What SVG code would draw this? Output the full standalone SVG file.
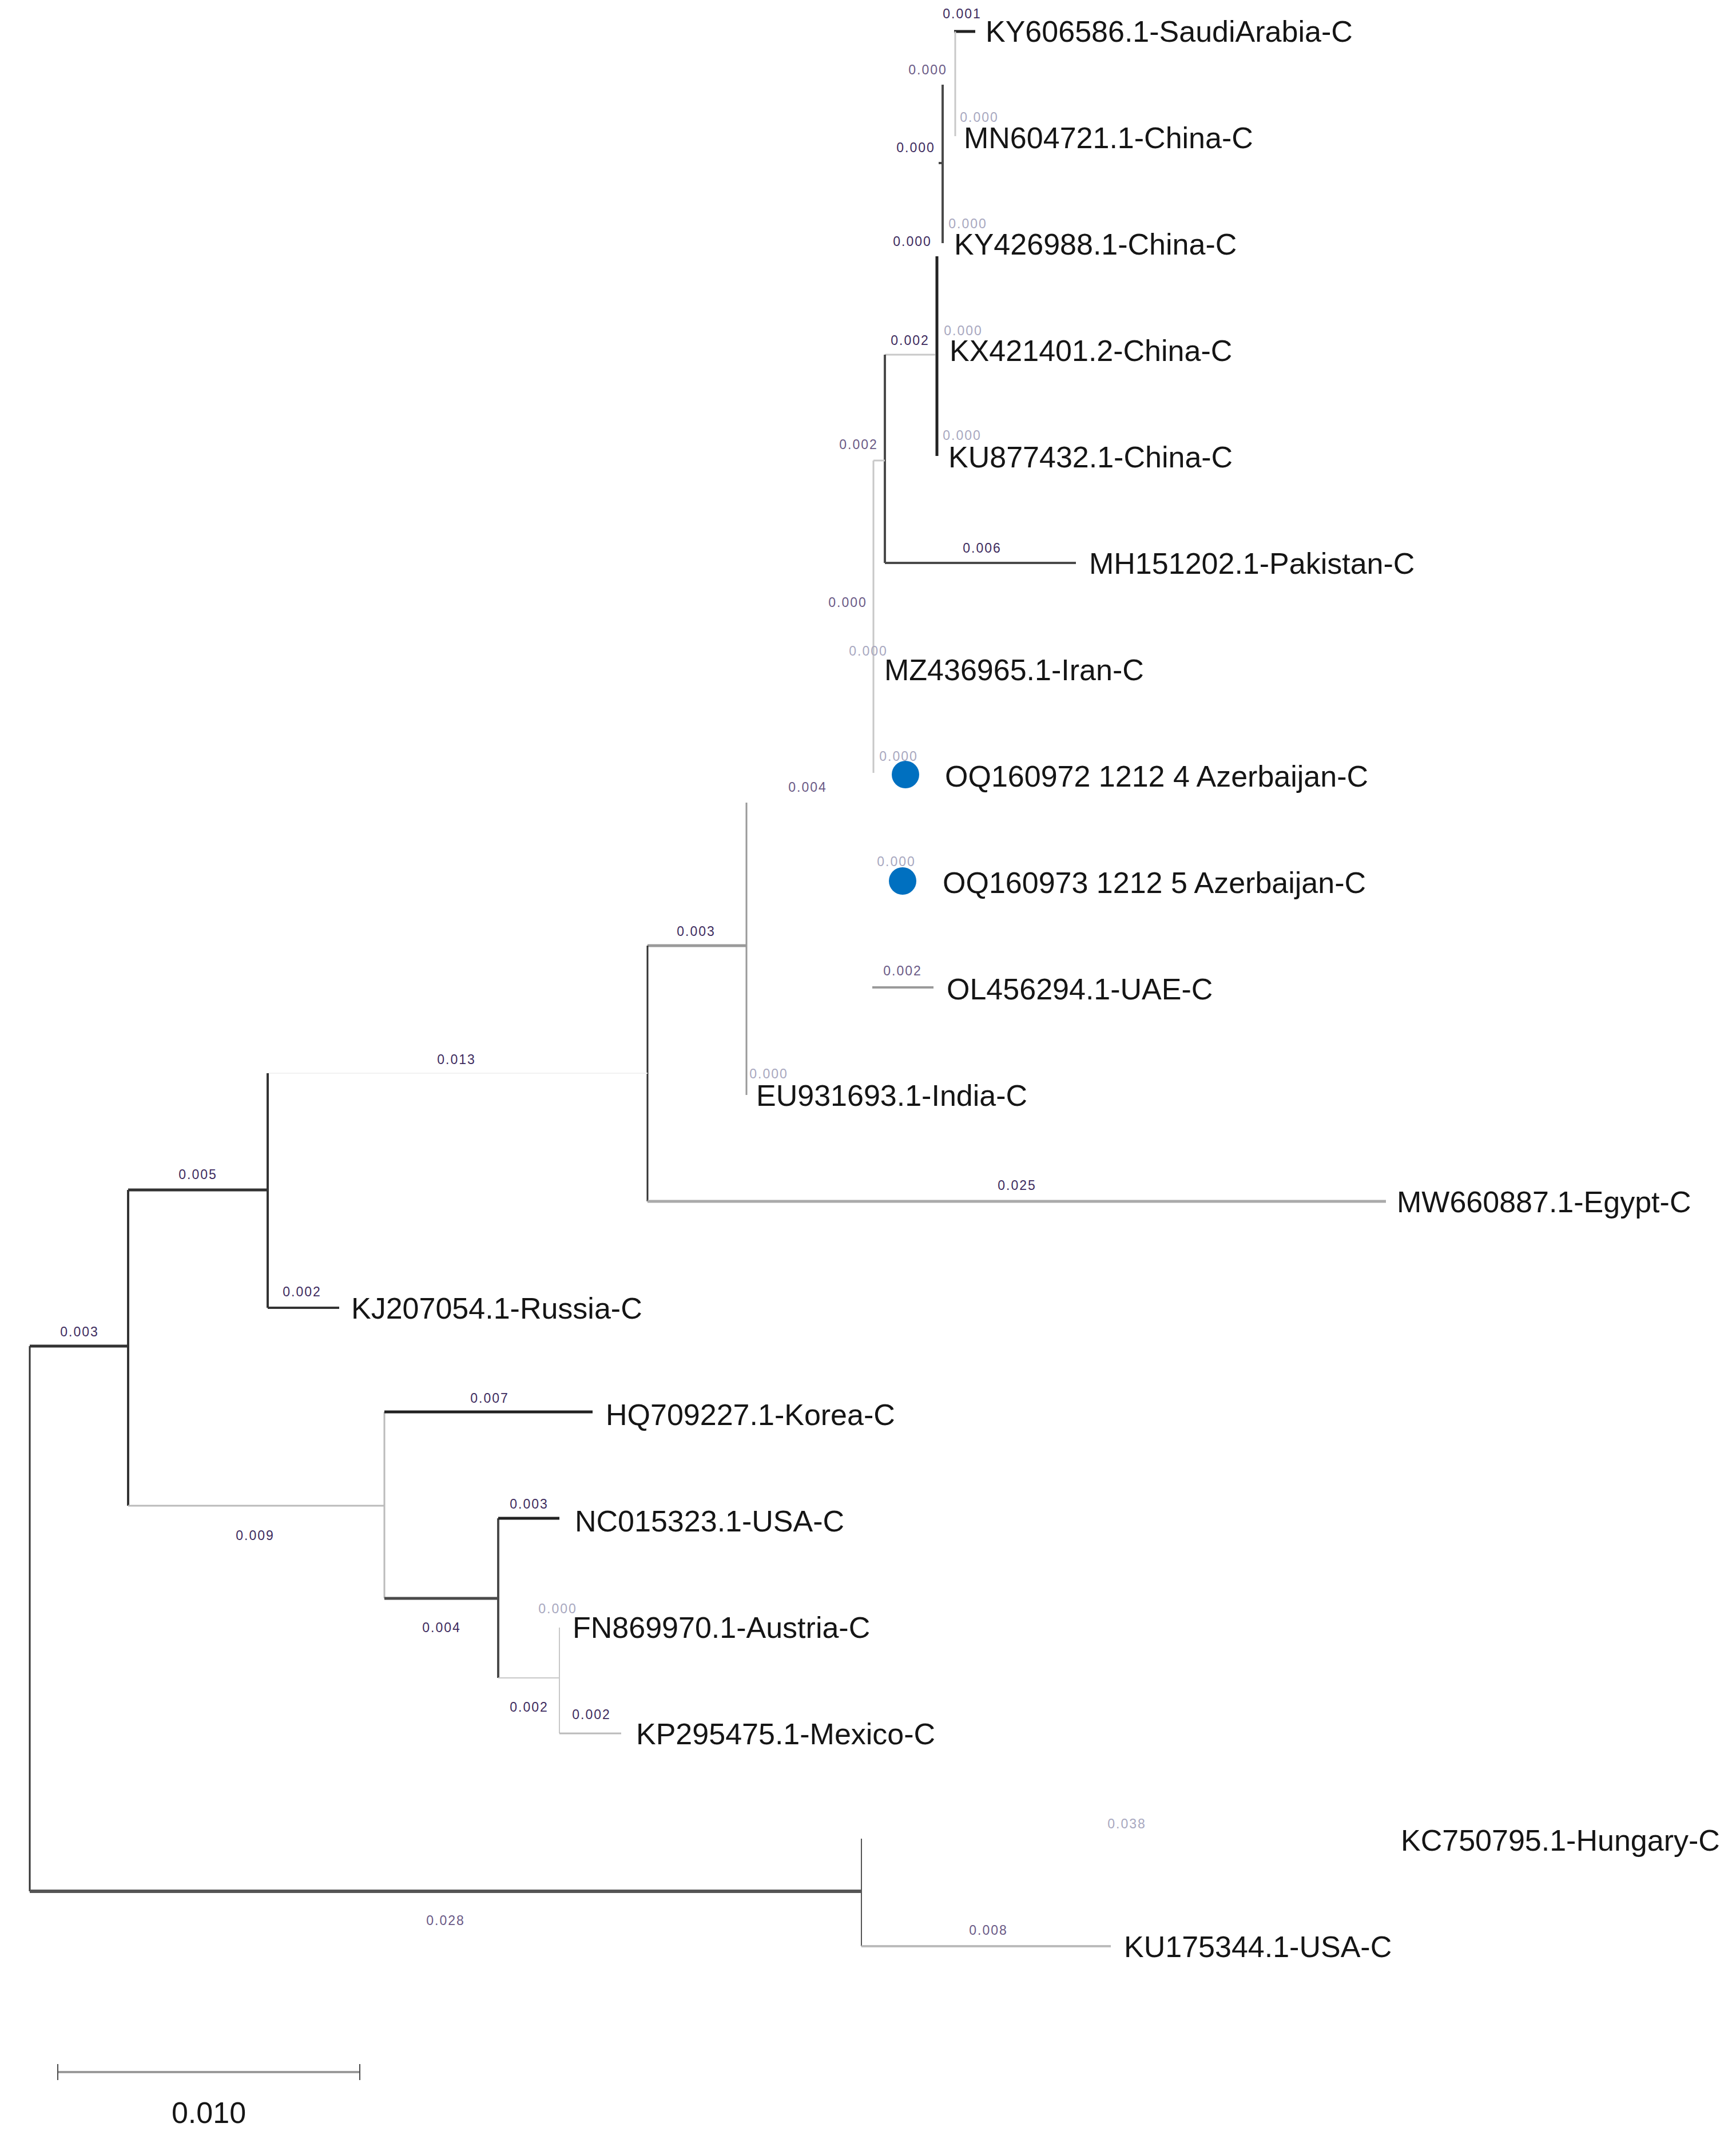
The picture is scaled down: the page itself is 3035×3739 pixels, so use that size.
<svg xmlns="http://www.w3.org/2000/svg" width="3035" height="3739" viewBox="0 0 3035 3739">
<style>
.taxon{font-family:"Liberation Sans",Arial,sans-serif;font-size:52px;fill:#151515}
.bl{font-family:"Liberation Sans",Arial,sans-serif;font-size:23px;letter-spacing:2px;text-anchor:middle;dominant-baseline:central}
.d{fill:#3d2b5e}.m{fill:#6a5a86}.l{fill:#a8a8bf}
.k{stroke:#222;stroke-width:5;fill:none}
.dk{stroke:#4a4a4a;stroke-width:4;fill:none}
.g{stroke:#9a9a9a;stroke-width:4;fill:none}
.lg{stroke:#c8c8c8;stroke-width:3;fill:none}
.fa{stroke:#f2f2f2;stroke-width:2;fill:none}
.dot{fill:#0070c0}
</style>
<rect width="3035" height="3739" fill="#fff"/>
<g id="connectors">
<line class="k" x1="1668" y1="55" x2="1705" y2="55"/>
<line class="lg" x1="1670" y1="55" x2="1670" y2="238"/>
<line class="dk" x1="1648" y1="148" x2="1648" y2="425"/>
<line class="dk" x1="1641" y1="285" x2="1648" y2="285"/>
<line class="k" x1="1638" y1="448" x2="1638" y2="797"/>
<line class="lg" x1="1547" y1="620" x2="1635" y2="620"/>
<line class="dk" x1="1547" y1="620" x2="1547" y2="984"/>
<line class="dk" x1="1547" y1="984" x2="1881" y2="984"/>
<line class="lg" x1="1527" y1="805" x2="1547" y2="805"/>
<line class="lg" x1="1527" y1="805" x2="1527" y2="1351"/>
<line class="g" x1="1525" y1="1726" x2="1632" y2="1726"/>
<line class="g" x1="1305" y1="1403" x2="1305" y2="1914" style="stroke-width:3"/>
<line class="g" x1="1132" y1="1653" x2="1305" y2="1653" style="stroke-width:5"/>
<line class="dk" x1="1132" y1="1653" x2="1132" y2="2100" style="stroke:#333;stroke-width:3"/>
<line class="g" x1="1132" y1="2100" x2="2423" y2="2100" style="stroke:#aaa;stroke-width:5"/>
<line class="fa" x1="468" y1="1876" x2="1132" y2="1876"/>
<line class="dk" x1="468" y1="1876" x2="468" y2="2286" style="stroke:#333"/>
<line class="dk" x1="468" y1="2286" x2="593" y2="2286" style="stroke:#333"/>
<line class="dk" x1="224" y1="2080" x2="468" y2="2080" style="stroke:#333;stroke-width:5"/>
<line class="dk" x1="224" y1="2080" x2="224" y2="2632" style="stroke:#333"/>
<line class="dk" x1="52" y1="2353" x2="224" y2="2353" style="stroke:#333;stroke-width:5"/>
<line class="dk" x1="52" y1="2353" x2="52" y2="3306" style="stroke:#333;stroke-width:3"/>
<line class="lg" x1="224" y1="2632" x2="672" y2="2632" style="stroke:#bbb"/>
<line class="lg" x1="672" y1="2468" x2="672" y2="2794" style="stroke:#bbb"/>
<line class="k" x1="672" y1="2468" x2="1036" y2="2468"/>
<line class="dk" x1="672" y1="2794" x2="871" y2="2794" style="stroke-width:5"/>
<line class="dk" x1="871" y1="2654" x2="871" y2="2933"/>
<line class="k" x1="871" y1="2654" x2="978" y2="2654"/>
<line class="lg" x1="871" y1="2933" x2="978" y2="2933" style="stroke-width:2"/>
<line class="lg" x1="978" y1="2845" x2="978" y2="3030" style="stroke-width:2"/>
<line class="lg" x1="978" y1="3030" x2="1086" y2="3030" style="stroke:#bbb"/>
<line class="dk" x1="52" y1="3306" x2="1506" y2="3306" style="stroke:#555;stroke-width:6"/>
<line class="dk" x1="1506" y1="3214" x2="1506" y2="3402" style="stroke:#555;stroke-width:2"/>
<line class="lg" x1="1506" y1="3402" x2="1942" y2="3402" style="stroke:#bbb;stroke-width:4"/>
</g>
<g id="scale-bar">
<line class="g" x1="101" y1="3622" x2="629" y2="3622"/>
<line class="dk" x1="101" y1="3608" x2="101" y2="3636" style="stroke-width:2"/>
<line class="dk" x1="629" y1="3608" x2="629" y2="3636" style="stroke-width:2"/>
<text class="taxon" x="365" y="3711" text-anchor="middle">0.010</text>
</g>
<g id="branch-lengths">
<text class="bl d" x="1682" y="24">0.001</text>
<text class="bl m" x="1622" y="122">0.000</text>
<text class="bl d" x="1601" y="258">0.000</text>
<text class="bl l" x="1712" y="205">0.000</text>
<text class="bl d" x="1595" y="422">0.000</text>
<text class="bl l" x="1692" y="391">0.000</text>
<text class="bl d" x="1591" y="595">0.002</text>
<text class="bl l" x="1684" y="578">0.000</text>
<text class="bl m" x="1501" y="777">0.002</text>
<text class="bl l" x="1682" y="761">0.000</text>
<text class="bl d" x="1717" y="958">0.006</text>
<text class="bl m" x="1482" y="1053">0.000</text>
<text class="bl l" x="1518" y="1138">0.000</text>
<text class="bl l" x="1571" y="1322">0.000</text>
<text class="bl m" x="1412" y="1376">0.004</text>
<text class="bl l" x="1567" y="1506">0.000</text>
<text class="bl d" x="1217" y="1628">0.003</text>
<text class="bl m" x="1578" y="1697">0.002</text>
<text class="bl d" x="798" y="1852">0.013</text>
<text class="bl l" x="1344" y="1877">0.000</text>
<text class="bl d" x="346" y="2053">0.005</text>
<text class="bl d" x="1778" y="2072">0.025</text>
<text class="bl d" x="528" y="2258">0.002</text>
<text class="bl d" x="139" y="2328">0.003</text>
<text class="bl d" x="856" y="2444">0.007</text>
<text class="bl d" x="925" y="2629">0.003</text>
<text class="bl d" x="446" y="2684">0.009</text>
<text class="bl l" x="975" y="2812">0.000</text>
<text class="bl d" x="772" y="2845">0.004</text>
<text class="bl d" x="925" y="2984">0.002</text>
<text class="bl d" x="1034" y="2997">0.002</text>
<text class="bl l" x="1970" y="3188">0.038</text>
<text class="bl m" x="1728" y="3374">0.008</text>
<text class="bl m" x="779" y="3357">0.028</text>
</g>
<g id="taxon-KY606586"><text class="taxon" x="1723" y="73">KY606586.1-SaudiArabia-C</text></g>
<g id="taxon-MN604721"><text class="taxon" x="1685" y="259">MN604721.1-China-C</text></g>
<g id="taxon-KY426988"><text class="taxon" x="1668" y="445">KY426988.1-China-C</text></g>
<g id="taxon-KX421401"><text class="taxon" x="1660" y="631">KX421401.2-China-C</text></g>
<g id="taxon-KU877432"><text class="taxon" x="1658" y="817">KU877432.1-China-C</text></g>
<g id="taxon-MH151202"><text class="taxon" x="1904" y="1003">MH151202.1-Pakistan-C</text></g>
<g id="taxon-MZ436965"><text class="taxon" x="1546" y="1189">MZ436965.1-Iran-C</text></g>
<g id="taxon-OQ160972"><circle class="dot" cx="1583" cy="1354" r="24"/><text class="taxon" x="1652" y="1375">OQ160972 1212 4 Azerbaijan-C</text></g>
<g id="taxon-OQ160973"><circle class="dot" cx="1578" cy="1540" r="24"/><text class="taxon" x="1648" y="1561">OQ160973 1212 5 Azerbaijan-C</text></g>
<g id="taxon-OL456294"><text class="taxon" x="1655" y="1747">OL456294.1-UAE-C</text></g>
<g id="taxon-EU931693"><text class="taxon" x="1322" y="1933">EU931693.1-India-C</text></g>
<g id="taxon-MW660887"><text class="taxon" x="2442" y="2119">MW660887.1-Egypt-C</text></g>
<g id="taxon-KJ207054"><text class="taxon" x="614" y="2305">KJ207054.1-Russia-C</text></g>
<g id="taxon-HQ709227"><text class="taxon" x="1059" y="2491">HQ709227.1-Korea-C</text></g>
<g id="taxon-NC015323"><text class="taxon" x="1005" y="2677">NC015323.1-USA-C</text></g>
<g id="taxon-FN869970"><text class="taxon" x="1001" y="2863">FN869970.1-Austria-C</text></g>
<g id="taxon-KP295475"><text class="taxon" x="1112" y="3049">KP295475.1-Mexico-C</text></g>
<g id="taxon-KC750795"><text class="taxon" x="2449" y="3235">KC750795.1-Hungary-C</text></g>
<g id="taxon-KU175344"><text class="taxon" x="1965" y="3421">KU175344.1-USA-C</text></g>
</svg>
